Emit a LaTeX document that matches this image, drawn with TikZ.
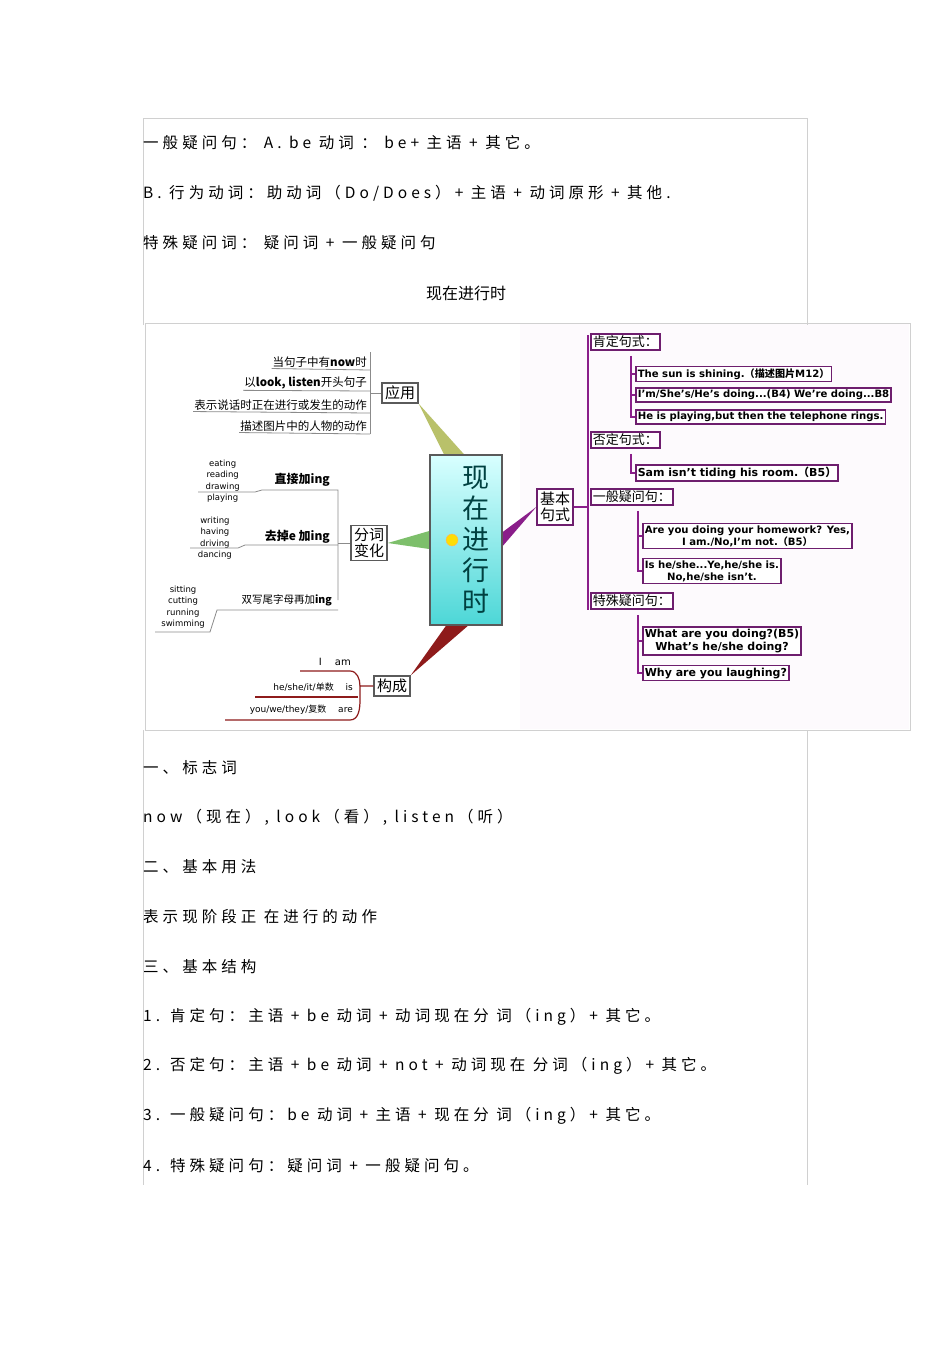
\documentclass[tikz,border=0pt]{standalone}
\usepackage{fontspec}
\setmainfont{Noto Sans CJK SC}
\setsansfont{DejaVu Sans}
\newfontfamily\bodyfont[LetterSpace=26]{Noto Sans CJK SC}
\newfontfamily\cjk{Noto Sans CJK SC}
\usetikzlibrary{positioning,backgrounds}
\definecolor{frameline}{HTML}{D0D0D0}
\definecolor{yapp}{HTML}{B9C16A}
\definecolor{gchg}{HTML}{7DBF6B}
\definecolor{rbuild}{HTML}{8E1B1B}
\definecolor{pbase}{HTML}{8A1E8A}
\definecolor{pbox}{HTML}{6E1E6E}
\definecolor{gbox}{HTML}{5A5A5A}

\begin{document}
\begin{tikzpicture}[x=1pt, y=-1pt,
    line/.style={anchor=west, inner sep=0pt, font=\bodyfont\fontsize{15.5}{17}\selectfont},
    core/.style={draw=gbox, line width=1.5pt, top color=cyan!15, bottom color=cyan!55!teal!70, minimum width=72pt, minimum height=170pt, inner sep=0pt},
    topic/.style={draw=gbox, line width=1.4pt, fill=white, inner sep=3pt, align=center, font=\cjk\fontsize{15}{16}\selectfont},
    head/.style={draw=pbox, line width=1.6pt, fill=white, inner sep=2pt, anchor=west, font=\cjk\fontsize{13}{13}\selectfont},
    leaf/.style={draw=pbox, line width=1.6pt, fill=white, inner sep=2pt, anchor=west, align=center, font=\sffamily\bfseries\fontsize{10.1}{12}\selectfont},
    tip/.style={anchor=east, inner sep=1pt, font=\cjk\fontsize{11.5}{13}\selectfont},
    word/.style={anchor=east, inner sep=0pt, align=center, font=\sffamily\fontsize{8.5}{11.5}\selectfont},
    rule/.style={gbox!70, line width=0.8pt}]
    \useasboundingbox (0,0) rectangle (950,1345);

    % page frame
    \draw[frameline] (143,325) -- (143,118) -- (807,118) -- (807,325);
    \draw[frameline] (143,730) -- (143,1185);
    \draw[frameline] (807,730) -- (807,1185);

    \node[line] (q1) at (143,143) {一般疑问句： A. be 动词 ： be+ 主语 + 其它。};
    \node[line] (q2) at (143,193) {B. 行为动词：助动词（Do/Does）+ 主语 + 动词原形 + 其他.};
    \node[line] (q3) at (143,243) {特殊疑问词： 疑问词 + 一般疑问句};
    \node[font=\cjk\fontsize{16}{17}\selectfont] (title) at (466,293) {现在进行时};

    % mind map picture
    \node[core] (now) at (466,540) {};
    \node[font=\cjk\fontsize{27}{31}\selectfont, text=teal!50!black, align=center] (nowtxt) at (476,540) {现\\在\\进\\行\\时};
    \fill[yellow!80!orange, draw=orange!60] (452,540) circle (6);

    \node[topic] (use) at (400,393) {应用};
    \node[topic] (chg) at (369,543) {分词\\变化};
    \node[topic] (build) at (392,686) {构成};
    \node[topic, draw=pbox] (base) at (555,507) {基本\\句式};

    \begin{scope}[on background layer]
      \draw[frameline, fill=white] (145,323) rectangle (910,730);
      \fill[pbase!2] (520,324) rectangle (909,729);
      \fill[yapp] ([xshift=-22]now.north) -- ([xshift=-2]now.north) -- (use.south east) -- cycle;
      \fill[gchg] ([yshift=-9]now.west) -- ([yshift=9]now.west) -- (chg.east) -- cycle;
      \fill[rbuild] ([xshift=-20]now.south) -- ([xshift=2]now.south) -- (build.north east) -- cycle;
      \fill[pbase] ([yshift=-6]now.east) -- ([yshift=8]now.east) -- (base.west) -- cycle;
    \end{scope}

    % application
    \coordinate (usebar) at (370,393);
    \foreach \t/\y/\n in {{当句子中有\textbf{now}时}/362/u1, {以\textbf{look, listen}开头句子}/383/u2,
        {表示说话时正在进行或发生的动作}/405/u3, {描述图片中的人物的动作}/426/u4} {
      \node[tip] (\n) at (368,\y) {\t};
      \draw[rule] (\n.south west) -- (370,\y+8);
    }
    \draw[rule] (370,352) -- (370,434);
    \draw[rule] (usebar) -- (use.west);

    % participle
    \node[tip, font=\cjk\bfseries\fontsize{12}{13}\selectfont] (c1) at (331,480) {直接加ing};
    \node[tip, font=\cjk\bfseries\fontsize{12}{13}\selectfont] (c2) at (331,537) {去掉e 加ing};
    \node[tip, font=\cjk\fontsize{10.5}{13}\selectfont] (c3) at (333,600) {双写尾字母再加\textbf{ing}};
    \node[word] (w1) at (240,481) {eating\\reading\\drawing\\playing};
    \node[word] (w2) at (232,538) {writing\\having\\driving\\dancing};
    \node[word] (w3) at (205,607) {sitting\\cutting\\running\\swimming};
    \draw[rule] (198,492) -- (255,492) -- (262,490) -- (338,490) -- (338,600);
    \draw[rule] (190,548) -- (238,548) -- (245,545) -- (338,545);
    \draw[rule] (155,632) -- (210,632) -- (217,610) -- (338,610);
    \draw[rule] (338,543) -- (chg.west);

    % forms of be
    \node[tip, font=\sffamily\fontsize{10}{12}\selectfont] (b1) at (352,662) {I \quad am};
    \node[tip, font=\sffamily\fontsize{9}{12}\selectfont] (b2) at (354,687) {he/she/it/{\cjk 单数} \quad is};
    \node[tip, font=\sffamily\fontsize{9}{12}\selectfont] (b3) at (354,710) {you/we/they/{\cjk 复数} \quad are};
    \draw[rbuild, line width=1.2pt] (300,671) -- (350,671) to[out=0, in=90] (360,686);
    \draw[rbuild, line width=1.2pt] (255,697) -- (358,697);
    \draw[rbuild, line width=1.2pt] (225,720) -- (350,720) to[out=0, in=-90] (360,700) -- (360,686) -- (build.west);

    % basic patterns
    \draw[pbase, line width=1.6pt] (588,335) -- (588,610);
    \draw[pbase, line width=1.2pt] (base.east) -- (588,507);
    \node[head] (h1) at (590,342) {肯定句式：};
    \node[head] (h2) at (590,440) {否定句式：};
    \node[head] (h3) at (590,497) {一般疑问句：};
    \node[head] (h4) at (590,601) {特殊疑问句：};

    \node[leaf] (a1) at (635,374) {The sun is shining.{\cjk （描述图片}M12{\cjk ）}};
    \node[leaf] (a2) at (635,395) {I'm/She's/He's doing...(B4) We're doing...B8};
    \node[leaf] (a3) at (635,417) {He is playing,but then the telephone rings.};
    \node[leaf, font=\sffamily\bfseries\fontsize{11}{12}\selectfont] (n1) at (635,473) {Sam isn't tiding his room.{\cjk （}B5{\cjk ）}};
    \node[leaf] (g1) at (642,536) {Are you doing your homework? Yes,\\I am./No,I'm not.{\cjk （}B5{\cjk ）}};
    \node[leaf] (g2) at (642,571) {Is he/she...Ye,he/she is.\\No,he/she isn't.};
    \node[leaf, font=\sffamily\bfseries\fontsize{11}{13}\selectfont] (s1) at (642,641) {What are you doing?(B5)\\What's he/she doing?};
    \node[leaf, font=\sffamily\bfseries\fontsize{11}{12}\selectfont] (s2) at (642,673) {Why are you laughing?};

    \foreach \h/\a/\b/\x in {h1/a1/a3/631, h2/n1/n1/631, h3/g1/g2/638, h4/s1/s2/638} {
      \draw[pbase, line width=1.4pt] (\x,0 |- \h.south) ++(0,5) |- (\b.west);
      \draw[pbase, line width=1.4pt] (\x,0 |- \a.west) -- (\a.west);
    }
    \draw[pbase, line width=1.4pt] (631,0 |- a2.west) -- (a2.west);

    % lower text
    \node[line] (l1) at (143,768) {一、标志词};
    \node[line] (l2) at (143,817) {now（现在）, look（看）, listen（听）};
    \node[line] (l3) at (143,867) {二、基本用法};
    \node[line] (l4) at (143,917) {表示现阶段正 在进行的动作};
    \node[line] (l5) at (143,967) {三、基本结构};
    \node[line] (l6) at (143,1017) {1. 肯定句：主语 + be 动词 + 动词现在分 词（ing）+ 其它。};
    \node[line] (l7) at (143,1066) {2. 否定句：主语 + be 动词 + not + 动词现在 分词（ing）+ 其它。};
    \node[line] (l8) at (143,1116) {3. 一般疑问句：be 动词 + 主语 + 现在分 词（ing）+ 其它。};
    \node[line] (l9) at (143,1166) {4. 特殊疑问句：疑问词 + 一般疑问句。};
\end{tikzpicture}
\end{document}
